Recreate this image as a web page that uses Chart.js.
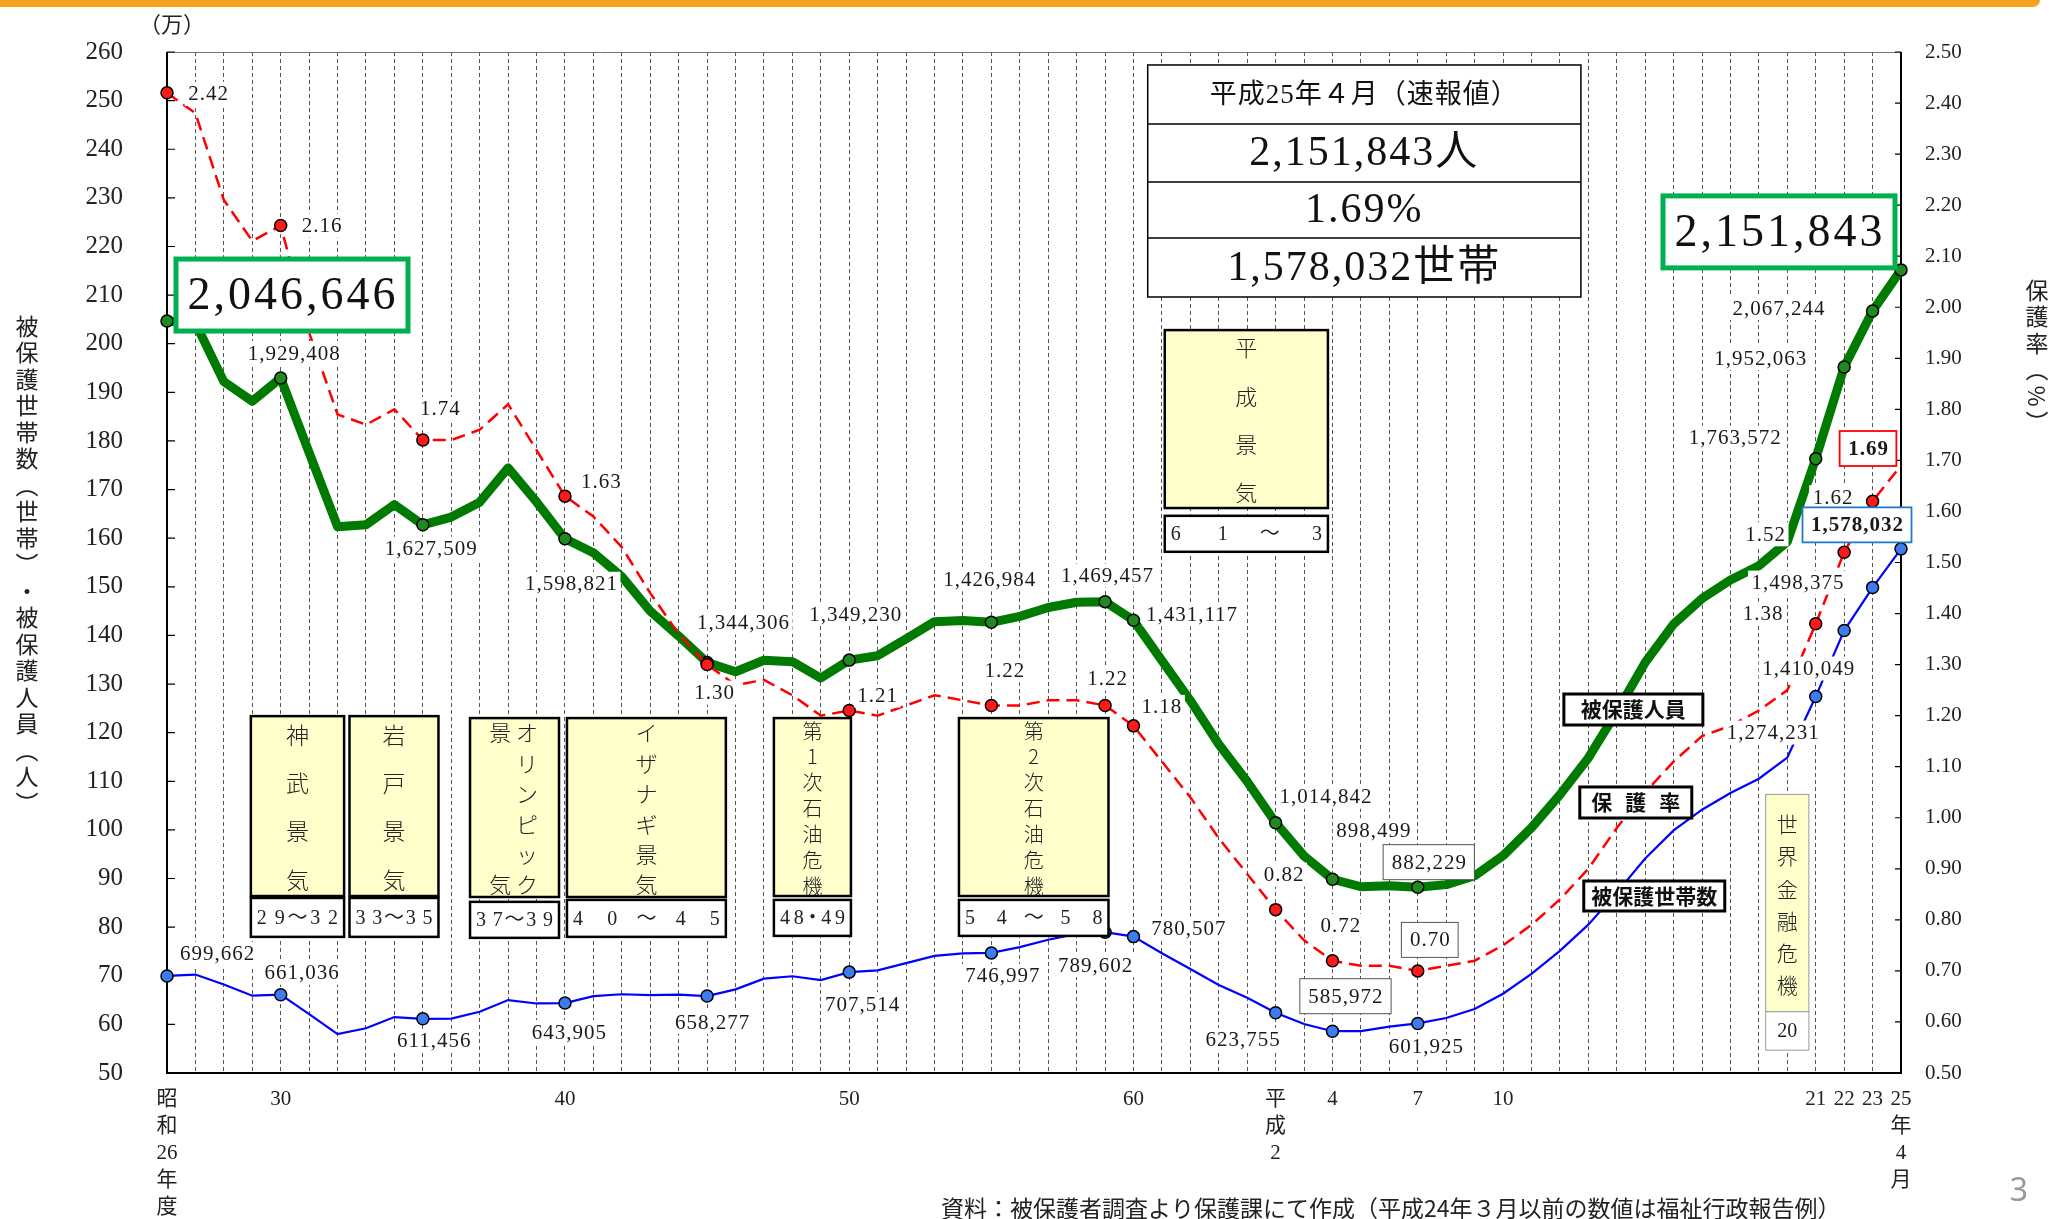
<!DOCTYPE html>
<html lang="ja">
<head>
<meta charset="utf-8">
<title>被保護世帯数、被保護人員、保護率の年次推移</title>
<script src="https://cdn.jsdelivr.net/npm/chart.js@4.4.1/dist/chart.umd.min.js"></script>
<style>
  html, body { margin: 0; padding: 0; background: #fff; }
  #wrap { position: relative; width: 2049px; height: 1219px; overflow: hidden; }
  #bar { position: absolute; left: 0; top: 0; width: 2040px; height: 7px; background: #f5a31e; border-bottom-right-radius: 10px; }
  canvas { position: absolute; left: 0; top: 0; }
</style>
</head>
<body>
<div id="wrap">
  <canvas id="myChart" width="2049" height="1219"></canvas>
  <div id="bar"></div>
</div>
<script>
// categories: 昭和26年度 ... 平成23年度, 平成25年4月
var years = ['昭和26','27','28','29','30','31','32','33','34','35','36','37','38','39','40','41','42','43','44','45',
  '46','47','48','49','50','51','52','53','54','55','56','57','58','59','60','61','62','63',
  '平成元','2','3','4','5','6','7','8','9','10','11','12','13','14','15','16','17','18','19','20','21','22','23','25年4月'];

// 被保護人員（人）
var people = [2046646, 2042550, 1922060, 1881687, 1929408, 1775971, 1623744, 1627571, 1669180, 1627509,
  1643445, 1674001, 1744639, 1674661, 1598821, 1570054, 1520733, 1449970, 1398725, 1344306,
  1325218, 1349000, 1346000, 1312339, 1349230, 1358316, 1393128, 1428261, 1430488, 1426984,
  1439226, 1457383, 1468245, 1469457, 1431117, 1348163, 1266126, 1176258, 1099520, 1014842,
  946374, 898499, 883112, 884912, 882229, 887450, 905589, 946994, 1004472, 1072241,
  1148088, 1242723, 1344327, 1423388, 1475838, 1513892, 1543321, 1592620, 1763572, 1952063,
  2067244, 2151843];

// 被保護世帯数（世帯）
var households = [699662, 702450, 682000, 659000, 661036, 621000, 580000, 592000, 615000, 611456,
  612000, 626000, 650000, 643000, 643905, 658000, 662000, 660000, 661000, 658277,
  672000, 694000, 699000, 691000, 707514, 711000, 726000, 741000, 746000, 746997,
  759000, 774000, 786000, 789602, 780507, 746355, 713825, 681018, 654915, 623755,
  600697, 585972, 586106, 595407, 601925, 613106, 631488, 663060, 704055, 751303,
  805169, 870931, 941270, 998887, 1041508, 1075820, 1105275, 1148766, 1274231, 1410049,
  1498375, 1578032];

// 保護率（%）
var rates = [2.42, 2.38, 2.21, 2.13, 2.16, 1.95, 1.79, 1.77, 1.80, 1.74,
  1.74, 1.76, 1.81, 1.72, 1.63, 1.59, 1.53, 1.44, 1.36, 1.30,
  1.26, 1.27, 1.24, 1.20, 1.21, 1.20, 1.22, 1.24, 1.23, 1.22,
  1.22, 1.23, 1.23, 1.22, 1.18, 1.11, 1.04, 0.96, 0.89, 0.82,
  0.76, 0.72, 0.71, 0.71, 0.70, 0.71, 0.72, 0.75, 0.79, 0.84,
  0.90, 0.98, 1.05, 1.11, 1.16, 1.18, 1.21, 1.25, 1.38, 1.52,
  1.62, 1.69];

var seriesNames = ['被保護人員', '保護率', '被保護世帯数'];

var tickIndex = [0, 4, 14, 24, 34, 39, 41, 44, 47, 58, 59, 60, 61];
var tickText = [['昭','和','26','年','度'], ['30'], ['40'], ['50'], ['60'], ['平','成','2'], ['4'], ['7'], ['10'],
  ['21'], ['22'], ['23'], ['25','年','4','月']];

var markIndex = [0, 4, 9, 14, 19, 24, 29, 33, 34, 39, 41, 44, 58, 59, 60, 61];
var redMarkIndex = [0, 4, 9, 14, 19, 24, 29, 33, 34, 39, 41, 44, 58, 59, 60];

// label placement: [index, dx, dy, box]
var greenTags = [[4,13,-25],[9,8,24],[14,6,45],[19,36,-40],[24,6,-46],[29,-2,-43],[33,2,-26],[34,58,-6],
  [39,50,-26],[41,41,-49],[44,11,-25,'gray'],[58,-81,-21],[59,-84,-9],[60,-94,-3]];
var bigTags = [[0,125,-26],[61,-122,-38]];
var redTags = [[0,41,1],[4,41,0],[9,17,-31],[14,36,-15],[19,7,28],[24,28,-15],[29,13,-35],[33,2,-27],
  [34,28,-19],[39,8,-35],[41,8,-35],[44,12,-31,'gray'],[58,-53,-10],[59,-79,-18],[60,-40,-4],[61,-33,-17,'red']];
var blueTags = [[0,50,-22],[4,21,-22],[9,11,22],[14,4,29],[19,5,26],[24,13,32],[29,11,23],[33,-10,33],
  [34,55,-8],[39,-33,27],[41,13,-35,'gray'],[44,8,23],[58,-43,36],[59,-36,38],[60,-75,-5],[61,-44,-24,'blue']];

// 景気・危機の期間（x: category index, y: 左軸の値）
var eras = [
  { c: [2.95, 6.23], v: [123.4, 86.4], yv: [86.0, 78.0], cols: [[0.5, '神武景気']], yr: '29～32', fs: 23, pad: [19, 16] },
  { c: [6.42, 9.55], v: [123.4, 86.4], yv: [86.0, 78.0], cols: [[0.5, '岩戸景気']], yr: '33～35', fs: 23, pad: [19, 16] },
  { c: [10.66, 13.79], v: [123.0, 86.2], yv: [85.2, 77.8], cols: [[0.64, 'オリンピック'], [0.34, '景気']], yr: '37～39', fs: 22, pad: [15, 12] },
  { c: [14.07, 19.66], v: [123.0, 86.2], yv: [85.6, 78.0], cols: [[0.5, 'イザナギ景気']], yr: '40～45', fs: 22, pad: [15, 12] },
  { c: [21.35, 24.06], v: [123.0, 86.4], yv: [85.6, 78.2], cols: [[0.5, '第1次石油危機']], yr: '48・49', fs: 20, pad: [13, 10] },
  { c: [27.86, 33.12], v: [123.0, 86.4], yv: [85.6, 78.2], cols: [[0.5, '第2次石油危機']], yr: '54～58', fs: 20, pad: [13, 10] },
  { c: [35.10, 40.84], v: [202.8, 166.2], yv: [164.6, 157.2], cols: [[0.5, '平成景気']], yr: '61～3', fs: 22, pad: [18, 15] },
  { c: [56.24, 57.76], v: [107.3, 62.6], yv: [62.6, 54.7], cols: [[0.5, '世界金融危機']], yr: '20', fs: 21, pad: [30, 27], thin: true }
];

var keys = [
  { c: [49.14, 54.03], v: [127.95, 121.58], name: 0 },
  { c: [49.70, 53.64], v: [108.83, 102.45], name: 1, spread: true },
  { c: [49.84, 54.80], v: [89.49, 83.32], name: 2 }
];

var info = { c: [34.5, 49.74], v: [257.33, 245.19, 233.26, 221.74, 209.61] };

var SERIF = '"Liberation Serif", "Noto Sans CJK JP", serif';
var JP = '"Noto Sans CJK JP", sans-serif';

function fmt(n) { return String(n).replace(/\B(?=(\d{3})+(?!\d))/g, ','); }

function vtext(ctx, text, x, y0, y1) {
  var ch = Array.from(text), n = ch.length;
  for (var k = 0; k < n; k++) {
    var y = n === 1 ? (y0 + y1) / 2 : y0 + (y1 - y0) * k / (n - 1);
    ctx.fillText(ch[k], x, y);
  }
}

function spread(ctx, text, L, R, y, pad) {
  var ch = Array.from(text), n = ch.length;
  for (var k = 0; k < n; k++) {
    ctx.fillText(ch[k], L + pad + (R - L - 2 * pad) * k / (n - 1), y);
  }
}

function tag(ctx, x, y, text, box) {
  var bold = box === 'red' || box === 'blue';
  ctx.font = (bold ? 'bold ' : '') + '21px ' + SERIF;
  ctx.letterSpacing = '1px';
  var w = ctx.measureText(text).width;
  var bw = box ? w + 16 : w + 6, bh = box ? 35 : 24;
  ctx.fillStyle = '#fff';
  ctx.fillRect(x - bw / 2, y - bh / 2, bw, bh);
  if (box) {
    ctx.strokeStyle = { gray: '#555', red: '#ff0000', blue: '#1f7acc' }[box];
    ctx.lineWidth = box === 'gray' ? 1 : 1.8;
    ctx.strokeRect(x - bw / 2, y - bh / 2, bw, bh);
  }
  ctx.fillStyle = '#1a1a1a';
  ctx.textAlign = 'center';
  ctx.textBaseline = 'middle';
  ctx.fillText(text, x + 0.5, y + 1);
  ctx.letterSpacing = '0px';
}

var notes = {
  id: 'notes',
  beforeDatasetsDraw: function (chart) {
    var ctx = chart.ctx, a = chart.chartArea;
    ctx.save();
    ctx.strokeStyle = '#777';
    ctx.lineWidth = 1;
    ctx.beginPath(); ctx.moveTo(a.left, a.top + 0.5); ctx.lineTo(a.right, a.top + 0.5); ctx.stroke();
    ctx.strokeStyle = '#000';
    ctx.lineWidth = 2;
    ctx.beginPath();
    ctx.moveTo(a.left, a.top); ctx.lineTo(a.left, a.bottom); ctx.lineTo(a.right, a.bottom); ctx.lineTo(a.right, a.top);
    ctx.stroke();
    ctx.lineWidth = 1.2;
    ctx.beginPath();
    chart.scales.y.ticks.forEach(function (t) {
      var y = chart.scales.y.getPixelForValue(t.value);
      ctx.moveTo(a.left, y); ctx.lineTo(a.left + 8, y);
    });
    chart.scales.y2.ticks.forEach(function (t) {
      var y = chart.scales.y2.getPixelForValue(t.value);
      ctx.moveTo(a.right, y); ctx.lineTo(a.right - 6, y);
    });
    ctx.stroke();
    ctx.restore();
  },
  afterDatasetsDraw: function (chart) {
    var ctx = chart.ctx, xs = chart.scales.x, ys = chart.scales.y, y2 = chart.scales.y2;
    ctx.save();

    // eras
    eras.forEach(function (e) {
      var L = xs.getPixelForValue(e.c[0]), R = xs.getPixelForValue(e.c[1]);
      var T = ys.getPixelForValue(e.v[0]), B = ys.getPixelForValue(e.v[1]);
      ctx.fillStyle = '#ffffcc';
      ctx.fillRect(L, T, R - L, B - T);
      ctx.strokeStyle = e.thin ? '#999' : '#000';
      ctx.lineWidth = e.thin ? 1 : 2.5;
      ctx.strokeRect(L, T, R - L, B - T);
      ctx.fillStyle = '#222';
      ctx.font = '300 ' + e.fs + 'px ' + JP;
      ctx.textAlign = 'center';
      ctx.textBaseline = 'middle';
      e.cols.forEach(function (col) { vtext(ctx, col[1], L + (R - L) * col[0], T + e.pad[0], B - e.pad[1]); });
      var T2 = ys.getPixelForValue(e.yv[0]), B2 = ys.getPixelForValue(e.yv[1]);
      ctx.fillStyle = '#fff';
      ctx.fillRect(L, T2, R - L, B2 - T2);
      ctx.strokeRect(L, T2, R - L, B2 - T2);
      ctx.fillStyle = '#222';
      ctx.font = '20px ' + SERIF;
      if (e.thin) ctx.fillText(e.yr, (L + R) / 2, (T2 + B2) / 2 + 1);
      else spread(ctx, e.yr, L, R, (T2 + B2) / 2 + 1, 11);
    });

    // value tags
    greenTags.forEach(function (t) {
      tag(ctx, xs.getPixelForValue(t[0]) + t[1], ys.getPixelForValue(people[t[0]] / 10000) + t[2], fmt(people[t[0]]), t[3]);
    });
    redTags.forEach(function (t) {
      tag(ctx, xs.getPixelForValue(t[0]) + t[1], y2.getPixelForValue(rates[t[0]]) + t[2], rates[t[0]].toFixed(2), t[3]);
    });
    blueTags.forEach(function (t) {
      tag(ctx, xs.getPixelForValue(t[0]) + t[1], ys.getPixelForValue(households[t[0]] / 10000) + t[2], fmt(households[t[0]]), t[3]);
    });
    bigTags.forEach(function (t) {
      var x = xs.getPixelForValue(t[0]) + t[1], y = ys.getPixelForValue(people[t[0]] / 10000) + t[2];
      ctx.fillStyle = '#fff';
      ctx.fillRect(x - 116, y - 36, 232, 72);
      ctx.strokeStyle = '#00b050';
      ctx.lineWidth = 5;
      ctx.strokeRect(x - 116, y - 36, 232, 72);
      ctx.fillStyle = '#111';
      ctx.font = '46px ' + SERIF;
      ctx.letterSpacing = '3px';
      ctx.textAlign = 'center';
      ctx.textBaseline = 'middle';
      ctx.fillText(fmt(people[t[0]]), x + 1, y + 2);
      ctx.letterSpacing = '0px';
    });

    // series keys
    keys.forEach(function (k) {
      var L = xs.getPixelForValue(k.c[0]), R = xs.getPixelForValue(k.c[1]);
      var T = ys.getPixelForValue(k.v[0]), B = ys.getPixelForValue(k.v[1]);
      ctx.fillStyle = '#fff';
      ctx.fillRect(L, T, R - L, B - T);
      ctx.strokeStyle = '#000';
      ctx.lineWidth = 3;
      ctx.strokeRect(L, T, R - L, B - T);
      ctx.fillStyle = '#111';
      ctx.font = 'bold 21px ' + JP;
      ctx.textAlign = 'center';
      ctx.textBaseline = 'middle';
      if (k.spread) spread(ctx, seriesNames[k.name], L, R, (T + B) / 2, 22);
      else ctx.fillText(seriesNames[k.name], (L + R) / 2, (T + B) / 2);
    });

    // latest figures
    var L = xs.getPixelForValue(info.c[0]), R = xs.getPixelForValue(info.c[1]);
    var rows = info.v.map(function (v) { return ys.getPixelForValue(v); });
    ctx.fillStyle = '#fff';
    ctx.fillRect(L, rows[0], R - L, rows[4] - rows[0]);
    ctx.strokeStyle = '#000';
    ctx.lineWidth = 1.5;
    ctx.strokeRect(L, rows[0], R - L, rows[4] - rows[0]);
    ctx.beginPath();
    for (var r = 1; r < 4; r++) { ctx.moveTo(L, rows[r]); ctx.lineTo(R, rows[r]); }
    ctx.stroke();
    var lines = ['平成25年４月（速報値）', fmt(people[61]) + '人', rates[61].toFixed(2) + '%', fmt(households[61]) + '世帯'];
    ctx.fillStyle = '#111';
    ctx.textAlign = 'center';
    ctx.textBaseline = 'middle';
    for (var q = 0; q < 4; q++) {
      ctx.font = (q === 0 ? '27px ' : '42px ') + SERIF;
      ctx.letterSpacing = q === 0 ? '1px' : '2px';
      ctx.fillText(lines[q], (L + R) / 2, (rows[q] + rows[q + 1]) / 2 + 1);
    }
    ctx.letterSpacing = '0px';
    ctx.restore();
  },
  afterDraw: function (chart) {
    var ctx = chart.ctx;
    ctx.save();
    ctx.fillStyle = '#222';
    ctx.textAlign = 'center';
    ctx.textBaseline = 'middle';
    ctx.font = '22px ' + JP;
    ctx.fillText('（万）', 172, 24);
    ctx.font = '23px ' + JP;
    var left = Array.from('被保護世帯数︵世帯︶・被保護人員︵人︶');
    left.forEach(function (c, k) { ctx.fillText(c, 27, 326 + k * 26.5); });
    var right = Array.from('保護率︵%︶');
    right.forEach(function (c, k) {
      var y = 290 + k * 26.5;
      if (c === '%') {
        ctx.save(); ctx.translate(2037, y); ctx.rotate(Math.PI / 2); ctx.fillText(c, 0, 0); ctx.restore();
      } else ctx.fillText(c, 2037, y);
    });
    ctx.textAlign = 'left';
    ctx.font = '23px ' + JP;
    ctx.fillText('資料：被保護者調査より保護課にて作成（平成24年３月以前の数値は福祉行政報告例）', 941, 1208);
    ctx.fillStyle = '#999';
    ctx.textAlign = 'center';
    ctx.font = '32px "Noto Sans", sans-serif';
    ctx.fillText('3', 2019, 1192);
    ctx.restore();
  }
};

function marks(list, r) {
  return function (c) { return list.indexOf(c.dataIndex) >= 0 ? r : 0; };
}

Chart.defaults.font.family = SERIF;
Chart.defaults.color = '#222';

var ctx = document.getElementById('myChart').getContext('2d');
var myChart = new Chart(ctx, {
  type: 'line',
  data: {
    labels: years,
    datasets: [{
      label: seriesNames[1],
      data: rates,
      yAxisID: 'y2',
      borderColor: '#ff0000',
      borderWidth: 2.5,
      borderDash: [13, 7],
      pointRadius: marks(redMarkIndex, 6),
      pointBackgroundColor: '#ff1a1a',
      pointBorderColor: '#000',
      pointBorderWidth: 1.5,
      tension: 0,
      order: 0,
      clip: false
    }, {
      label: seriesNames[0],
      data: people.map(function (v) { return v / 10000; }),
      yAxisID: 'y',
      borderColor: '#007a00',
      borderWidth: 9,
      borderJoinStyle: 'round',
      pointRadius: marks(markIndex, 6),
      pointBackgroundColor: '#1f8a1f',
      pointBorderColor: '#000',
      pointBorderWidth: 1.5,
      tension: 0,
      order: 1,
      clip: false
    }, {
      label: seriesNames[2],
      data: households.map(function (v) { return v / 10000; }),
      yAxisID: 'y',
      borderColor: '#0000ff',
      borderWidth: 2.2,
      pointRadius: marks(markIndex, 6),
      pointBackgroundColor: '#3d7cf0',
      pointBorderColor: '#000',
      pointBorderWidth: 1.5,
      tension: 0,
      order: 2,
      clip: false
    }]
  },
  options: {
    responsive: false,
    animation: false,
    layout: { padding: { top: 52, left: 0, right: 0, bottom: 0 } },
    plugins: { legend: { display: false }, tooltip: { enabled: false } },
    scales: {
      x: {
        type: 'category',
        offset: false,
        grid: { color: '#555', lineWidth: 1, drawTicks: false },
        border: { display: false, dash: [4, 3] },
        ticks: {
          autoSkip: false, maxRotation: 0, minRotation: 0, padding: 13,
          font: { size: 21, lineHeight: 1.29 },
          callback: function (val, i) { var k = tickIndex.indexOf(i); return k < 0 ? '' : tickText[k]; }
        },
        afterFit: function (s) { s.height = 146; }
      },
      y: {
        position: 'left',
        min: 50, max: 260,
        grid: { display: false },
        border: { display: false },
        ticks: { stepSize: 10, padding: 36, font: { size: 25 } },
        afterFit: function (s) { s.width = 167; }
      },
      y2: {
        position: 'right',
        min: 0.5, max: 2.5,
        grid: { display: false },
        border: { display: false },
        ticks: { stepSize: 0.1, padding: 16, font: { size: 21 }, callback: function (v) { return v.toFixed(2); } },
        afterFit: function (s) { s.width = 148; }
      }
    }
  },
  plugins: [notes]
});
</script>
</body>
</html>
